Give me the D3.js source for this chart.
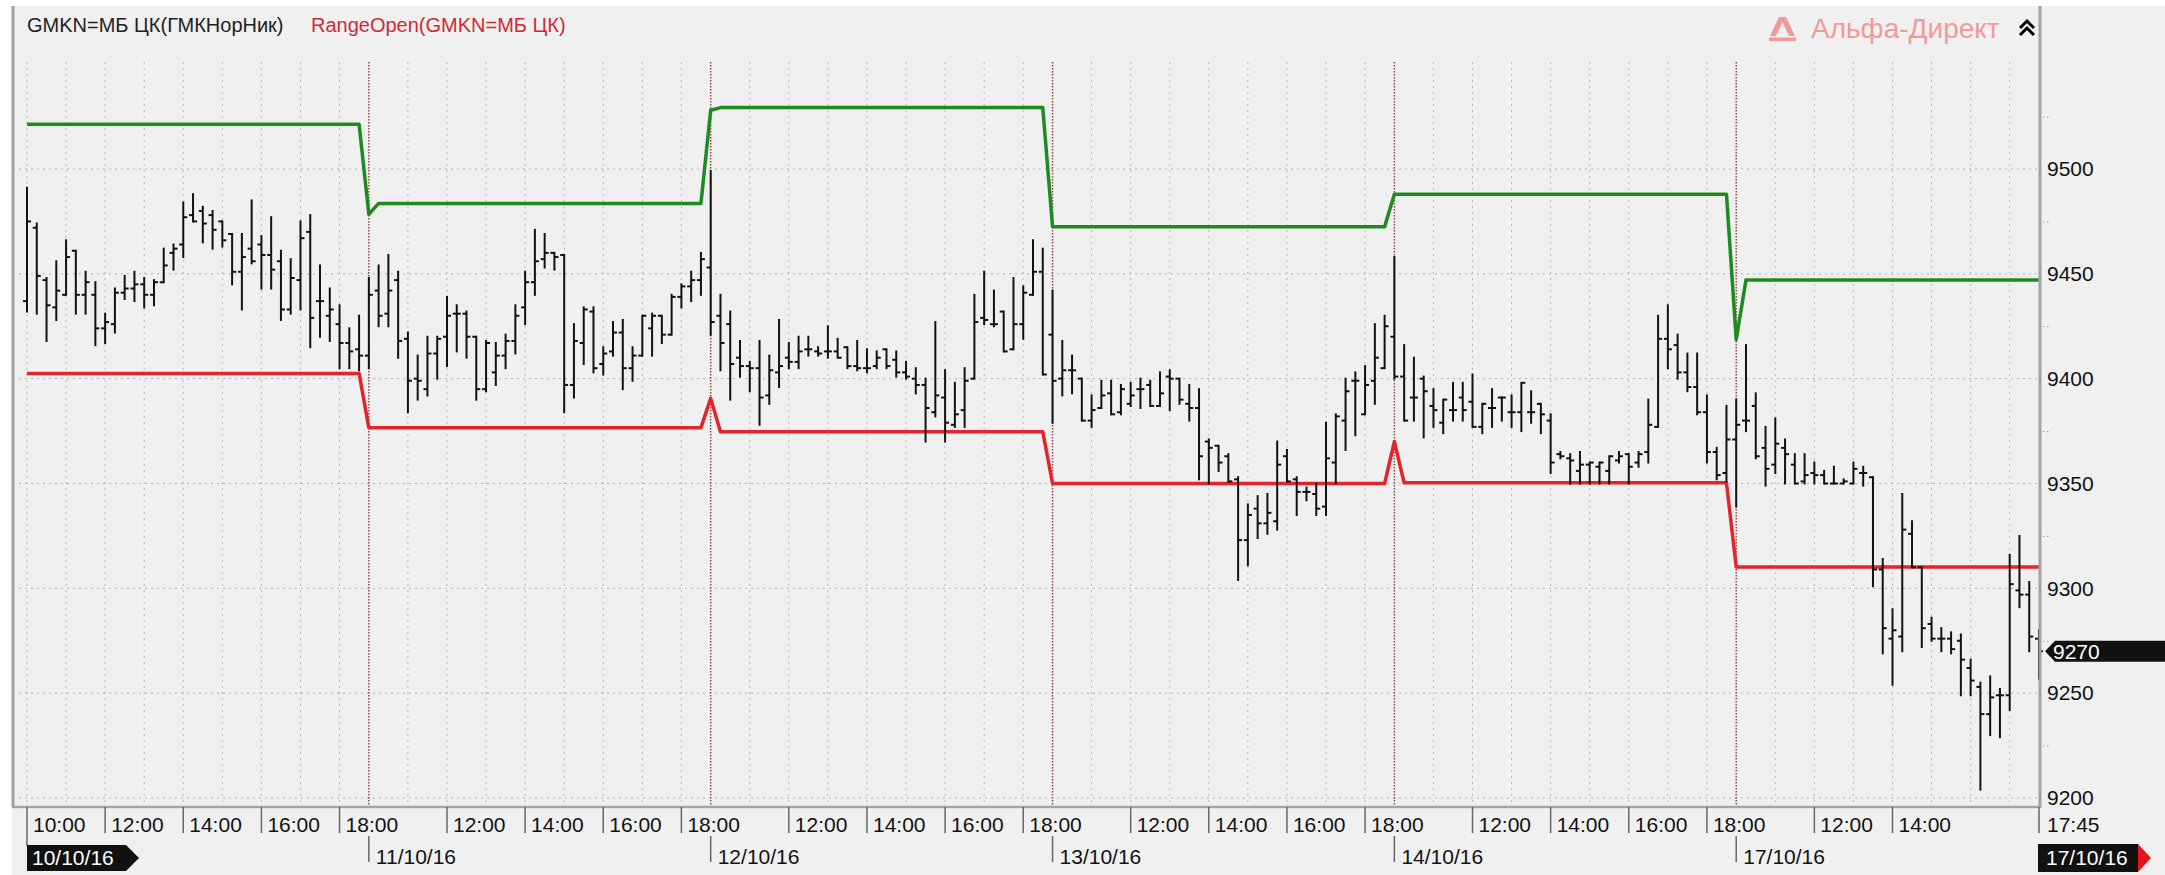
<!DOCTYPE html>
<html>
<head>
<meta charset="utf-8">
<script src="https://cdn.jsdelivr.net/npm/d3@7"></script>
<style>
  body { margin: 0; background: #ffffff; }
  svg { display: block; }
  text { font-family: "Liberation Sans", Arial, sans-serif; }
</style>
</head>
<body>
<svg id="chart" width="2165" height="875"></svg>
<script>
// ---- data ----
const dayLabels = ["10/10/16", "11/10/16", "12/10/16", "13/10/16", "14/10/16", "17/10/16"];
const sessionStart = "10:00";

// 15-minute bars, [open, high, low, close], from 10:00
const bars1010 = [
  [9437, 9491, 9432, 9475], [9472, 9474, 9431, 9449], [9447, 9448, 9418, 9435], [9434, 9456, 9428, 9442],
  [9440, 9466, 9440, 9458], [9461, 9461, 9431, 9440], [9440, 9451, 9431, 9446], [9440, 9446, 9416, 9424],
  [9424, 9431, 9417, 9427], [9426, 9443, 9422, 9441], [9441, 9449, 9438, 9443], [9443, 9451, 9437, 9445],
  [9445, 9448, 9434, 9440], [9440, 9447, 9435, 9446], [9446, 9462, 9446, 9454], [9460, 9464, 9452, 9462],
  [9464, 9484, 9458, 9477], [9478, 9488, 9475, 9475], [9480, 9482, 9465, 9474], [9478, 9480, 9462, 9471],
  [9475, 9475, 9463, 9466], [9469, 9469, 9445, 9451], [9451, 9469, 9433, 9458], [9462, 9485, 9455, 9456],
  [9464, 9468, 9443, 9459], [9459, 9477, 9443, 9452], [9456, 9461, 9428, 9433], [9433, 9457, 9431, 9448],
  [9447, 9475, 9433, 9467], [9470, 9478, 9415, 9429], [9437, 9454, 9420, 9437], [9430, 9443, 9418, 9433],
  [9426, 9435, 9405, 9417], [9417, 9424, 9405, 9413], [9414, 9430, 9404, 9411]
];
const bars1110 = [
  [9411, 9448, 9405, 9440], [9442, 9454, 9425, 9430], [9431, 9459, 9425, 9442], [9447, 9451, 9410, 9418],
  [9419, 9422, 9384, 9399], [9400, 9411, 9390, 9399], [9395, 9420, 9392, 9412], [9412, 9420, 9400, 9419],
  [9420, 9439, 9406, 9430], [9431, 9435, 9413, 9431], [9431, 9432, 9410, 9420], [9420, 9420, 9390, 9395],
  [9395, 9418, 9394, 9417], [9403, 9417, 9397, 9411], [9411, 9421, 9405, 9418], [9418, 9435, 9412, 9430],
  [9434, 9451, 9426, 9446], [9446, 9471, 9440, 9456], [9457, 9469, 9453, 9460], [9460, 9460, 9452, 9458],
  [9459, 9459, 9384, 9397], [9397, 9426, 9391, 9418], [9417, 9434, 9407, 9433], [9432, 9434, 9403, 9405],
  [9407, 9415, 9402, 9412], [9413, 9427, 9411, 9422], [9422, 9428, 9395, 9405], [9405, 9415, 9399, 9411],
  [9411, 9430, 9411, 9430], [9424, 9431, 9411, 9430], [9430, 9430, 9417, 9421], [9421, 9440, 9421, 9439],
  [9439, 9445, 9434, 9444], [9444, 9451, 9437, 9447], [9447, 9460, 9440, 9457]
];
const bars1210 = [
  [9453, 9499, 9421, 9427], [9430, 9440, 9404, 9417], [9426, 9432, 9390, 9407], [9410, 9418, 9401, 9406],
  [9406, 9408, 9394, 9405], [9405, 9418, 9378, 9391], [9392, 9411, 9388, 9404], [9403, 9428, 9396, 9406],
  [9410, 9417, 9405, 9408], [9408, 9420, 9405, 9413], [9414, 9420, 9411, 9414], [9413, 9415, 9411, 9412],
  [9413, 9425, 9410, 9413], [9413, 9419, 9410, 9410], [9415, 9415, 9405, 9406], [9406, 9418, 9404, 9405],
  [9405, 9414, 9403, 9405], [9406, 9413, 9405, 9410], [9414, 9414, 9405, 9406], [9409, 9413, 9401, 9403],
  [9403, 9408, 9400, 9401], [9400, 9405, 9393, 9397], [9397, 9400, 9370, 9386], [9384, 9427, 9382, 9392],
  [9391, 9404, 9370, 9379], [9378, 9398, 9377, 9383], [9385, 9405, 9377, 9399], [9400, 9440, 9400, 9427],
  [9429, 9451, 9426, 9428], [9426, 9442, 9425, 9426], [9432, 9432, 9413, 9413], [9414, 9448, 9414, 9426],
  [9426, 9444, 9419, 9441], [9440, 9466, 9440, 9451], [9451, 9462, 9402, 9402]
];
const bars1310 = [
  [9421, 9442, 9379, 9399], [9400, 9418, 9392, 9404], [9404, 9411, 9393, 9404], [9400, 9400, 9380, 9380],
  [9380, 9392, 9377, 9385], [9386, 9399, 9386, 9392], [9393, 9399, 9383, 9383], [9384, 9397, 9383, 9395],
  [9388, 9398, 9387, 9392], [9395, 9400, 9386, 9395], [9397, 9399, 9387, 9387], [9387, 9403, 9387, 9393],
  [9401, 9404, 9385, 9400], [9400, 9400, 9388, 9390], [9388, 9397, 9380, 9386], [9386, 9395, 9352, 9363],
  [9370, 9371, 9350, 9367], [9368, 9368, 9356, 9360], [9363, 9364, 9351, 9351], [9352, 9353, 9304, 9323],
  [9323, 9340, 9311, 9335], [9338, 9344, 9324, 9331], [9331, 9345, 9326, 9336], [9332, 9370, 9328, 9359],
  [9363, 9366, 9351, 9351], [9352, 9353, 9335, 9346], [9346, 9348, 9342, 9346], [9345, 9350, 9335, 9338],
  [9339, 9379, 9335, 9362], [9360, 9383, 9350, 9382], [9380, 9400, 9366, 9394], [9399, 9403, 9373, 9399],
  [9383, 9406, 9383, 9397], [9399, 9426, 9388, 9410], [9405, 9430, 9405, 9425]
];
const bars1410 = [
  [9420, 9458, 9400, 9401], [9401, 9416, 9380, 9380], [9391, 9410, 9380, 9391], [9400, 9401, 9372, 9394],
  [9387, 9395, 9377, 9385], [9379, 9390, 9374, 9390], [9385, 9398, 9380, 9385], [9391, 9398, 9380, 9385],
  [9389, 9402, 9377, 9377], [9377, 9388, 9374, 9388], [9386, 9395, 9377, 9386], [9391, 9391, 9380, 9391],
  [9384, 9392, 9377, 9384], [9384, 9398, 9375, 9398], [9384, 9394, 9379, 9384], [9388, 9388, 9374, 9383],
  [9380, 9383, 9355, 9360], [9364, 9365, 9362, 9363], [9362, 9364, 9350, 9361], [9356, 9365, 9350, 9359],
  [9359, 9360, 9350, 9360], [9358, 9360, 9350, 9360], [9356, 9363, 9350, 9363], [9361, 9365, 9360, 9363],
  [9364, 9364, 9350, 9358], [9360, 9365, 9358, 9364], [9365, 9390, 9360, 9378], [9377, 9430, 9377, 9419],
  [9419, 9435, 9405, 9414], [9416, 9421, 9400, 9403], [9403, 9412, 9394, 9396], [9396, 9412, 9383, 9384],
  [9384, 9392, 9360, 9365], [9365, 9367, 9352, 9354], [9355, 9387, 9351, 9371]
];
const bars1710 = [
  [9371, 9390, 9339, 9378], [9380, 9416, 9375, 9380], [9387, 9393, 9362, 9363], [9367, 9377, 9349, 9357],
  [9359, 9381, 9355, 9369], [9367, 9371, 9350, 9364], [9359, 9364, 9350, 9350], [9351, 9364, 9350, 9354],
  [9355, 9360, 9350, 9354], [9354, 9356, 9350, 9350], [9350, 9358, 9350, 9350], [9350, 9352, 9350, 9351],
  [9350, 9360, 9350, 9357], [9355, 9358, 9349, 9355], [9353, 9353, 9301, 9309], [9309, 9314, 9269, 9281],
  [9276, 9290, 9254, 9280], [9277, 9345, 9270, 9328], [9326, 9332, 9310, 9310], [9310, 9310, 9272, 9281],
  [9283, 9286, 9275, 9276], [9276, 9281, 9270, 9276], [9276, 9279, 9269, 9271], [9275, 9278, 9249, 9266],
  [9262, 9266, 9249, 9256], [9253, 9255, 9204, 9240], [9240, 9258, 9230, 9248], [9249, 9252, 9229, 9249],
  [9249, 9316, 9242, 9302], [9299, 9325, 9291, 9297], [9297, 9303, 9270, 9277], [9276, 9280, 9257, 9270]
];
const dayBars = [bars1010, bars1110, bars1210, bars1310, bars1410, bars1710];

// RangeOpen levels: [bar time, value], straight segments between them
const rangeHigh = [
  ["10/10/16 10:00", 9521.4], ["10/10/16 18:30", 9521.4],
  ["11/10/16 10:00", 9478.4], ["11/10/16 10:15", 9483.6], ["11/10/16 18:30", 9483.6],
  ["12/10/16 10:00", 9528.0], ["12/10/16 10:15", 9529.3], ["12/10/16 18:30", 9529.3],
  ["13/10/16 10:00", 9472.5], ["13/10/16 18:30", 9472.5],
  ["14/10/16 10:00", 9488.0], ["14/10/16 18:30", 9488.0],
  ["17/10/16 10:00", 9418.7], ["17/10/16 10:15", 9447.0], ["17/10/16 17:45", 9447.0]
];
const rangeLow = [
  ["10/10/16 10:00", 9402.5], ["10/10/16 18:30", 9402.5],
  ["11/10/16 10:00", 9376.6], ["11/10/16 18:30", 9376.6],
  ["12/10/16 10:00", 9390.6], ["12/10/16 10:15", 9374.7], ["12/10/16 18:30", 9374.7],
  ["13/10/16 10:00", 9350.0], ["13/10/16 18:30", 9350.0],
  ["14/10/16 10:00", 9370.0], ["14/10/16 10:15", 9350.3], ["14/10/16 18:30", 9350.3],
  ["17/10/16 10:00", 9310.2], ["17/10/16 17:45", 9310.2]
];

const priceTicks = [9200, 9250, 9300, 9350, 9400, 9450, 9500];
const minorTicks = [9225, 9275, 9325, 9375, 9425, 9475, 9525];
const timeTicksByDay = [
  ["10:00", "12:00", "14:00", "16:00", "18:00"],
  ["12:00", "14:00", "16:00", "18:00"],
  ["12:00", "14:00", "16:00", "18:00"],
  ["12:00", "14:00", "16:00", "18:00"],
  ["12:00", "14:00", "16:00", "18:00"],
  ["12:00", "14:00", "17:45"]
];
const lastPrice = 9270;

// ---- build bar records ----
function barTime(j) {
  const m = 10 * 60 + j * 15;
  return String(Math.floor(m / 60)).padStart(2, "0") + ":" + String(m % 60).padStart(2, "0");
}
const bars = [];
dayBars.forEach((list, d) => {
  list.forEach((b, j) => {
    const t = barTime(j);
    bars.push({ day: d, time: t, key: dayLabels[d] + " " + t, o: b[0], h: b[1], l: b[2], c: b[3] });
  });
});

const svg = d3.select("#chart");
const frame = { left: 13, right: 2040, top: 6, bottom: 807 };

const x = d3.scalePoint().domain(bars.map(d => d.key)).range([27, 2039]);
const y = d3.scaleLinear().domain([9200, 9500]).range([798, 169]);

// backgrounds
svg.append("rect").attr("x", 0).attr("y", 0).attr("width", 2165).attr("height", 875).attr("fill", "#f0f0f0");
svg.append("rect").attr("x", 0).attr("y", 0).attr("width", 2165).attr("height", frame.top).attr("fill", "#ffffff");
svg.append("rect").attr("x", 0).attr("y", 0).attr("width", frame.left - 1).attr("height", 875).attr("fill", "#ffffff");

// grid
const grid = svg.append("g");
grid.selectAll(".hgrid")
  .data(priceTicks)
  .join("line")
  .attr("x1", frame.left).attr("x2", frame.right)
  .attr("y1", d => y(d)).attr("y2", d => y(d))
  .attr("stroke", "#a9b1c2").attr("stroke-width", 1).attr("stroke-dasharray", "2,4");

const hourBars = bars.filter(d => d.time.endsWith(":00") && !(d.time === sessionStart && d.day > 0));
grid.selectAll(".vgrid")
  .data(hourBars)
  .join("line")
  .attr("x1", d => x(d.key)).attr("x2", d => x(d.key))
  .attr("y1", 62).attr("y2", frame.bottom)
  .attr("stroke", "#b9b9b9").attr("stroke-width", 1).attr("stroke-dasharray", "2,4");

const dayStarts = bars.filter(d => d.time === sessionStart && d.day > 0);
grid.selectAll(".sep")
  .data(dayStarts)
  .join("line")
  .attr("x1", d => x(d.key)).attr("x2", d => x(d.key))
  .attr("y1", 62).attr("y2", frame.bottom)
  .attr("stroke", "#914848").attr("stroke-width", 1.5).attr("stroke-dasharray", "1.5,1.5");

// RangeOpen lines
const line = d3.line().x(d => x(d[0])).y(d => y(d[1]));
svg.append("path").datum(rangeHigh).attr("d", line)
  .attr("fill", "none").attr("stroke", "#1f8a1f").attr("stroke-width", 3.5).attr("stroke-linejoin", "round");
svg.append("path").datum(rangeLow).attr("d", line)
  .attr("fill", "none").attr("stroke", "#e3252b").attr("stroke-width", 3.5).attr("stroke-linejoin", "round");

// OHLC bars
const ohlc = svg.append("g").attr("stroke", "#111").attr("stroke-width", 2);
const bar = ohlc.selectAll(".bar").data(bars).join("g");
bar.append("line")
  .attr("x1", d => x(d.key)).attr("x2", d => x(d.key))
  .attr("y1", d => y(d.h) - 1).attr("y2", d => y(d.l) + 1);
bar.append("line")
  .attr("x1", d => x(d.key) - 4).attr("x2", d => x(d.key))
  .attr("y1", d => y(d.o)).attr("y2", d => y(d.o));
bar.append("line")
  .attr("x1", d => x(d.key)).attr("x2", d => x(d.key) + 4)
  .attr("y1", d => y(d.c)).attr("y2", d => y(d.c));

// frame
svg.append("line").attr("x1", frame.left).attr("x2", frame.left).attr("y1", frame.top).attr("y2", frame.bottom)
  .attr("stroke", "#a0a0a0").attr("stroke-width", 3);
svg.append("line").attr("x1", frame.right).attr("x2", frame.right).attr("y1", frame.top).attr("y2", frame.bottom + 1)
  .attr("stroke", "#a0a0a0").attr("stroke-width", 3);
svg.append("line").attr("x1", frame.left - 1).attr("x2", frame.right).attr("y1", frame.bottom).attr("y2", frame.bottom)
  .attr("stroke", "#a4a4a4").attr("stroke-width", 2.5);

// price axis
const yAxis = svg.append("g")
  .attr("transform", `translate(${frame.right + 2},0)`)
  .call(d3.axisRight(y).tickValues(priceTicks).tickSize(0).tickPadding(5).tickFormat(d3.format("d")));
yAxis.select(".domain").remove();
yAxis.selectAll("text").attr("font-size", 21).attr("fill", "#111")
  .attr("font-family", "Liberation Sans, Arial, sans-serif");

const yMinor = svg.append("g")
  .attr("transform", `translate(${frame.right + 3},0)`)
  .call(d3.axisRight(y).tickValues(minorTicks).tickSize(6).tickFormat(""));
yMinor.select(".domain").remove();
yMinor.selectAll("line").attr("stroke", "#9a9a9a").attr("stroke-dasharray", "1.5,2.5");

// last price marker
const lp = svg.append("g").attr("transform", `translate(0,${y(lastPrice)})`);
lp.append("path")
  .attr("d", "M2045,0 L2055,-10.5 L2165,-10.5 L2165,10.5 L2055,10.5 Z")
  .attr("fill", "#111");
lp.append("text").attr("x", 2053).attr("y", 0).attr("dy", "0.35em")
  .attr("font-size", 21).attr("fill", "#fff").text(lastPrice);

// time axis
const tickBars = [];
bars.forEach(d => {
  if (timeTicksByDay[d.day].includes(d.time)) tickBars.push(d);
});
const tAxis = svg.append("g");
tAxis.selectAll(".tt")
  .data(tickBars)
  .join("line")
  .attr("x1", d => x(d.key)).attr("x2", d => x(d.key))
  .attr("y1", frame.bottom).attr("y2", d => (d.day === 0 && d.time === sessionStart) ? 846 : 833)
  .attr("stroke", "#666").attr("stroke-width", 1.5);
tAxis.selectAll(".tl")
  .data(tickBars)
  .join("text")
  .attr("x", d => x(d.key) + (d === bars[bars.length - 1] ? 8 : 6))
  .attr("y", 825).attr("dy", "0.35em")
  .attr("font-size", 21).attr("fill", "#111")
  .text(d => d.time);

// date row
const firstKey = bars[0].key;
const lastKey = bars[bars.length - 1].key;
const x0 = x(firstKey), xN = x(lastKey);
svg.append("path")
  .attr("d", `M${x0},845 L${x0 + 99},845 L${x0 + 112},858 L${x0 + 99},871 L${x0},871 Z`)
  .attr("fill", "#111");
svg.append("text").attr("x", x0 + 5).attr("y", 858).attr("dy", "0.35em")
  .attr("font-size", 21).attr("fill", "#fff").text(dayLabels[0]);

tAxis.selectAll(".dt")
  .data(dayStarts)
  .join("line")
  .attr("x1", d => x(d.key)).attr("x2", d => x(d.key))
  .attr("y1", 836).attr("y2", 862)
  .attr("stroke", "#666").attr("stroke-width", 1.5);
tAxis.selectAll(".dl")
  .data(dayStarts)
  .join("text")
  .attr("x", d => x(d.key) + 7).attr("y", 857).attr("dy", "0.35em")
  .attr("font-size", 21).attr("fill", "#111")
  .text(d => dayLabels[d.day]);

svg.append("rect").attr("x", xN - 1).attr("y", 844).attr("width", 100).attr("height", 28).attr("fill", "#111");
svg.append("path").attr("d", `M${xN + 99},844 L${xN + 112},858 L${xN + 99},872 Z`).attr("fill", "#e8141c");
svg.append("text").attr("x", xN + 7).attr("y", 858).attr("dy", "0.35em")
  .attr("font-size", 21).attr("fill", "#fff").text(dayLabels[dayLabels.length - 1]);

// legend / titles
svg.append("text").attr("x", 27).attr("y", 25).attr("dy", "0.35em")
  .attr("font-size", 20).attr("fill", "#222").text("GMKN=МБ ЦК(ГМКНорНик)");
svg.append("text").attr("x", 311).attr("y", 25).attr("dy", "0.35em")
  .attr("font-size", 20).attr("fill", "#cf2a33").text("RangeOpen(GMKN=МБ ЦК)");

// brand
const brand = svg.append("g").attr("fill", "#f19a9a");
brand.append("path").attr("d", "M1770,36 L1779,17 L1786,17 L1795,36 L1789,36 L1782.5,22 L1776,36 Z");
brand.append("rect").attr("x", 1769).attr("y", 37.5).attr("width", 27).attr("height", 3.5);
brand.append("text").attr("x", 1811).attr("y", 28).attr("dy", "0.35em")
  .attr("font-size", 28).text("Альфа-Директ");
svg.append("path").attr("d", "M2020,28 L2027,21 L2034,28 M2020,35 L2027,28 L2034,35")
  .attr("fill", "none").attr("stroke", "#000").attr("stroke-width", 3);
</script>
</body>
</html>
